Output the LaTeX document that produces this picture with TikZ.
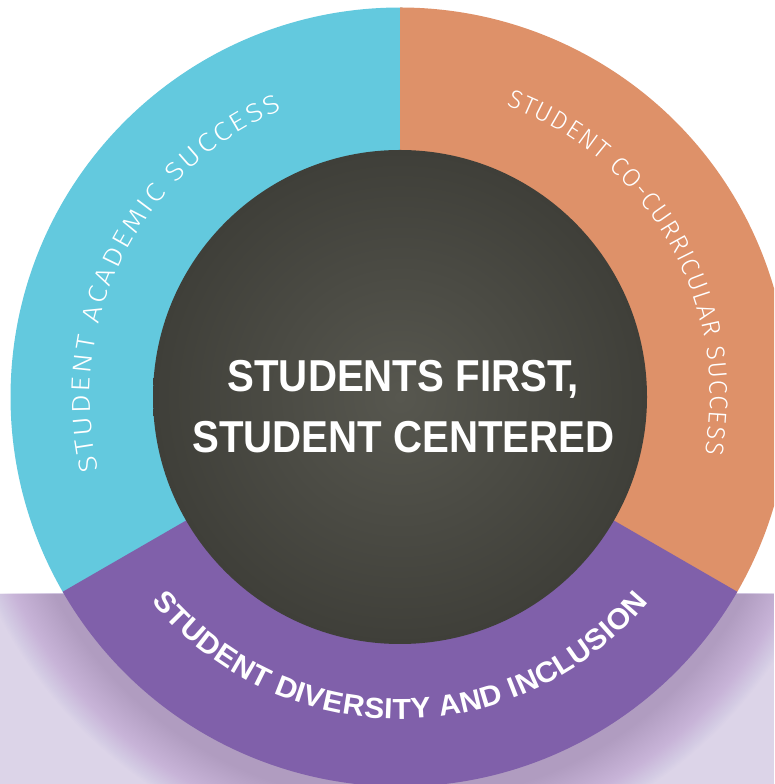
\documentclass[tikz,border=0pt]{standalone}
\usepackage{fontspec}
\setmainfont{Liberation Sans}
\newfontfamily\thinfont[FakeStretch=1.15]{Fira Sans Light}
\newfontfamily\thinfontb[FakeStretch=1.0]{Fira Sans Light}
\newfontfamily\ctrfont[FakeStretch=0.9]{Liberation Sans Bold}
\newfontfamily\purpfont[FakeStretch=1.04]{Liberation Sans Bold}
\usetikzlibrary{decorations.text}
\definecolor{segblue}{HTML}{63C9DE}
\definecolor{segorange}{HTML}{DE9169}
\definecolor{segpurple}{HTML}{8060AA}
\definecolor{lav}{HTML}{DCD4E8}
\definecolor{coreA}{HTML}{57574F}
\definecolor{coreB}{HTML}{3F3F39}
\tikzset{
  ctrtext/.style={text=white, inner sep=0pt, anchor=base, font=\ctrfont\fontsize{44.7}{50}\selectfont},
  sector/.style={draw=none},
}
\begin{document}
\begin{tikzpicture}[x=1pt,y=1pt]
\useasboundingbox (0,0) rectangle (774,784);
\clip (0,0) rectangle (774,784);
\coordinate (C) at (400,387);
\coordinate (G) at (400,372);
% lavender band
\fill[lav] (0,0) rectangle (774,190);
% glow
\begin{scope}
\clip (0,0) rectangle (774,190);
\foreach \i in {0,...,39} \fill[segpurple, opacity=0.010] (G) circle ({449.5-\i*1.5});
\end{scope}
% ring sectors
\fill[segblue, sector] (C) -- ([shift={(89.7:389.5)}]C) arc[start angle=89.7,end angle=210.3,radius=389.5] -- cycle;
\fill[segorange, sector] (C) -- ([shift={(-30.3:389.5)}]C) arc[start angle=-30.3,end angle=90,radius=389.5] -- cycle;
\fill[segpurple, sector] (C) -- ([shift={(210:389.5)}]C) arc[start angle=210,end angle=330,radius=389.5] -- cycle;
% core
\shade[inner color=coreA, outer color=coreB] (C) circle (247);
% arc labels
\path[decorate, decoration={text along path, text color=white, text align=fit to path,
  text={|\thinfont\fontsize{26}{30}\selectfont|STUDENT ACADEMIC SUCCESS}}]
  ([shift={(193.7:310)}]C) arc[start angle=193.7, end angle=112.3, radius=310];
\path[decorate, decoration={text along path, text color=white, text align=fit to path,
  text={|\thinfontb\fontsize{25.5}{30}\selectfont|STUDENT CO-CURRICULAR SUCCESS}}]
  ([shift={(70:310)}]C) arc[start angle=70, end angle=-10.5, radius=310];
\path[decorate, decoration={text along path, text color=white, text align=fit to path,
  text={|\purpfont\fontsize{29}{32}\selectfont|STUDENT DIVERSITY AND INCLUSION}}]
  ([shift={(219.5:322)}]C) arc[start angle=219.5, end angle=320.5, radius=322];
% center text
\node[ctrtext] (t1) at (403,392) {STUDENTS FIRST,};
\node[ctrtext] (t2) at (403.5,331) {STUDENT CENTERED};
\end{tikzpicture}
\end{document}
